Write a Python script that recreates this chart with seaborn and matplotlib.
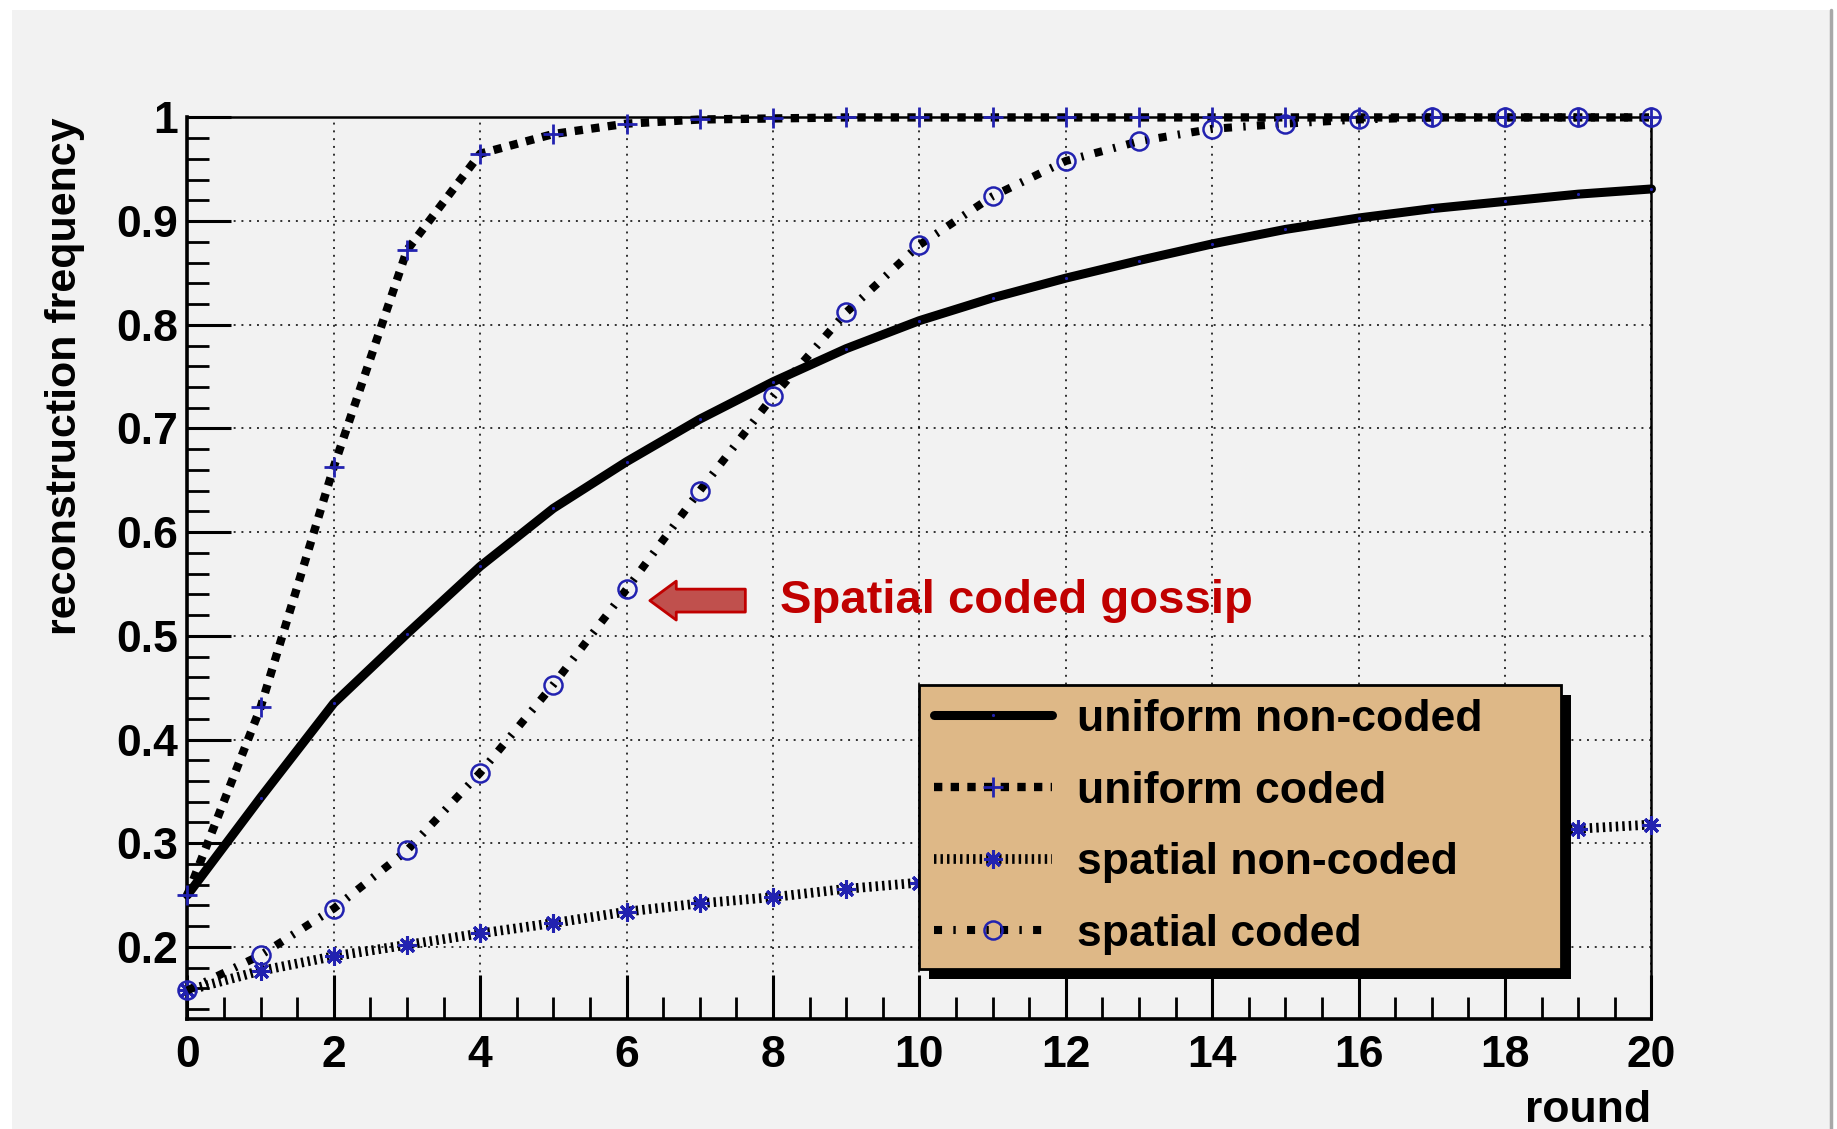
import matplotlib.pyplot as plt
import matplotlib.patheffects as pe
from matplotlib.patches import Rectangle
from matplotlib.lines import Line2D
from matplotlib.ticker import MultipleLocator
import seaborn as sns
import pandas as pd

sns.set_theme(style="ticks")
plt.rcParams["font.family"] = ["Liberation Sans", "DejaVu Sans"]
plt.rcParams["font.weight"] = "bold"
plt.rcParams["axes.labelweight"] = "bold"
plt.rcParams["text.color"] = "black"
plt.rcParams["axes.labelcolor"] = "black"
plt.rcParams["xtick.color"] = "black"
plt.rcParams["ytick.color"] = "black"

# data
rounds = list(range(21))
uniform_noncoded = [0.250, 0.344, 0.435, 0.502, 0.567, 0.623, 0.668, 0.709, 0.745, 0.777, 0.804,
                    0.826, 0.845, 0.862, 0.878, 0.892, 0.903, 0.912, 0.919, 0.926, 0.931]
uniform_coded = [0.250, 0.431, 0.663, 0.872, 0.965, 0.984, 0.994, 0.998, 0.999, 1.0, 1.0,
                 1.0, 1.0, 1.0, 1.0, 1.0, 1.0, 1.0, 1.0, 1.0, 1.0]
spatial_noncoded = [0.158, 0.177, 0.191, 0.202, 0.213, 0.223, 0.234, 0.242, 0.248, 0.256, 0.262,
                    0.268, 0.274, 0.280, 0.286, 0.291, 0.297, 0.302, 0.308, 0.314, 0.318]
spatial_coded = [0.158, 0.192, 0.237, 0.293, 0.368, 0.453, 0.545, 0.640, 0.731, 0.812, 0.877,
                 0.924, 0.958, 0.977, 0.989, 0.994, 0.998, 1.0, 1.0, 1.0, 1.0]
series_names = ["uniform non-coded", "uniform coded", "spatial non-coded", "spatial coded"]

xticks = list(range(0, 21, 2))
yticks = [0.2, 0.3, 0.4, 0.5, 0.6, 0.7, 0.8, 0.9, 1.0]
ytick_labels = ["0.2", "0.3", "0.4", "0.5", "0.6", "0.7", "0.8", "0.9", "1"]

frames = []
for name, vals in zip(series_names, [uniform_noncoded, uniform_coded, spatial_noncoded, spatial_coded]):
    frames.append(pd.DataFrame({"round": rounds, "freq": vals, "series": name}))
df = pd.concat(frames, ignore_index=True)

blue = "#2222b0"
styles = {
    "uniform non-coded": dict(linewidth=6.5, linestyle="-", marker="o", markersize=1.5,
                              markeredgecolor=blue, markerfacecolor=blue),
    "uniform coded": dict(linewidth=6.0, linestyle=(0, (1, 1.0)), marker="+", markersize=15,
                          markeredgewidth=2, markeredgecolor=blue),
    "spatial non-coded": dict(linewidth=7.0, linestyle=(0, (0.25, 0.42)), marker=(8, 2, 0), markersize=13,
                              markeredgewidth=2.2, markeredgecolor=blue),
    "spatial coded": dict(linewidth=5.8, linestyle=(0, (1, 1.4, 0.3, 1.4)), marker="o", markersize=13,
                          markeredgewidth=1.8, markeredgecolor=blue, markerfacecolor="none"),
}

fig = plt.figure(figsize=(18.37, 11.29), dpi=100)
fig.patch.set_facecolor("white")
fig.add_artist(Rectangle((12 / 1837, 0), 1818 / 1837, 1 - 10 / 1129, transform=fig.transFigure,
                         facecolor="#f2f2f2", edgecolor="none", zorder=-10))
fig.add_artist(Line2D([1831 / 1837, 1831 / 1837], [0, 1 - 10 / 1129], transform=fig.transFigure,
                      color="#a8a8a8", linewidth=2.5))

ax = fig.add_axes([0.102, 0.097, 0.797, 0.799])
ax.set_facecolor("#f2f2f2")

for name in series_names:
    sns.lineplot(data=df[df["series"] == name], x="round", y="freq", ax=ax, color="black",
                 errorbar=None, label=name, zorder=3, clip_on=False, **styles[name])

ax.set_xlim(0, 20)
ax.set_ylim(0.13, 1.0)
ax.set_xticks(xticks)
ax.set_yticks(yticks, labels=ytick_labels)
ax.xaxis.set_minor_locator(MultipleLocator(0.5))
ax.yaxis.set_minor_locator(MultipleLocator(0.02))
ax.tick_params(which="major", direction="in", length=32, width=2.2, color="black",
               labelsize=32, labelcolor="black", top=False, right=False)
ax.tick_params(which="minor", direction="in", length=16, width=2.0, color="black",
               top=False, right=False)
ax.tick_params(axis="x", which="major", pad=11)
ax.tick_params(axis="y", which="major", pad=7)
ax.grid(True, which="major", color="black", linestyle=(0, (1, 3)), linewidth=1.4, alpha=0.8)

for side in ["left", "bottom"]:
    ax.spines[side].set_linewidth(2.6)
for side in ["top", "right"]:
    ax.spines[side].set_linewidth(1.8)
    ax.spines[side].set_visible(True)
for sp in ax.spines.values():
    sp.set_color("black")

ax.set_xlabel("round", loc="right", fontsize=32, labelpad=10, color="black")
ax.set_ylabel("reconstruction frequency", loc="top", fontsize=31, labelpad=22, color="black")

leg = ax.legend(loc="upper left", bbox_to_anchor=(0.5, 0.057, 0.4384, 0.314), mode="expand",
                fontsize=32, handlelength=2.67, handletextpad=0.55, labelspacing=0.69,
                borderpad=0.32, borderaxespad=0, frameon=True, fancybox=False,
                facecolor="#deb887", edgecolor="black", framealpha=1, labelcolor="black")
leg.set_zorder(10)
leg.get_frame().set_linewidth(2)
leg.get_frame().set_path_effects([pe.SimplePatchShadow(offset=(7, -7), shadow_rgbFace="black", alpha=1),
                                  pe.Normal()])

# arrow + note
ax.annotate("", xy=(6.28, 0.534), xytext=(7.66, 0.534),
            arrowprops=dict(arrowstyle="simple,head_length=1.9,head_width=2.8,tail_width=1.65",
                            mutation_scale=10, facecolor="#c0504d", edgecolor="#c00000", linewidth=2))
ax.text(8.1, 0.534, "Spatial coded gossip", color="#c00000", fontsize=34, fontweight="bold",
        ha="left", va="center")

fig.savefig("out.png", dpi=100, facecolor=fig.get_facecolor())
plt.close(fig)
